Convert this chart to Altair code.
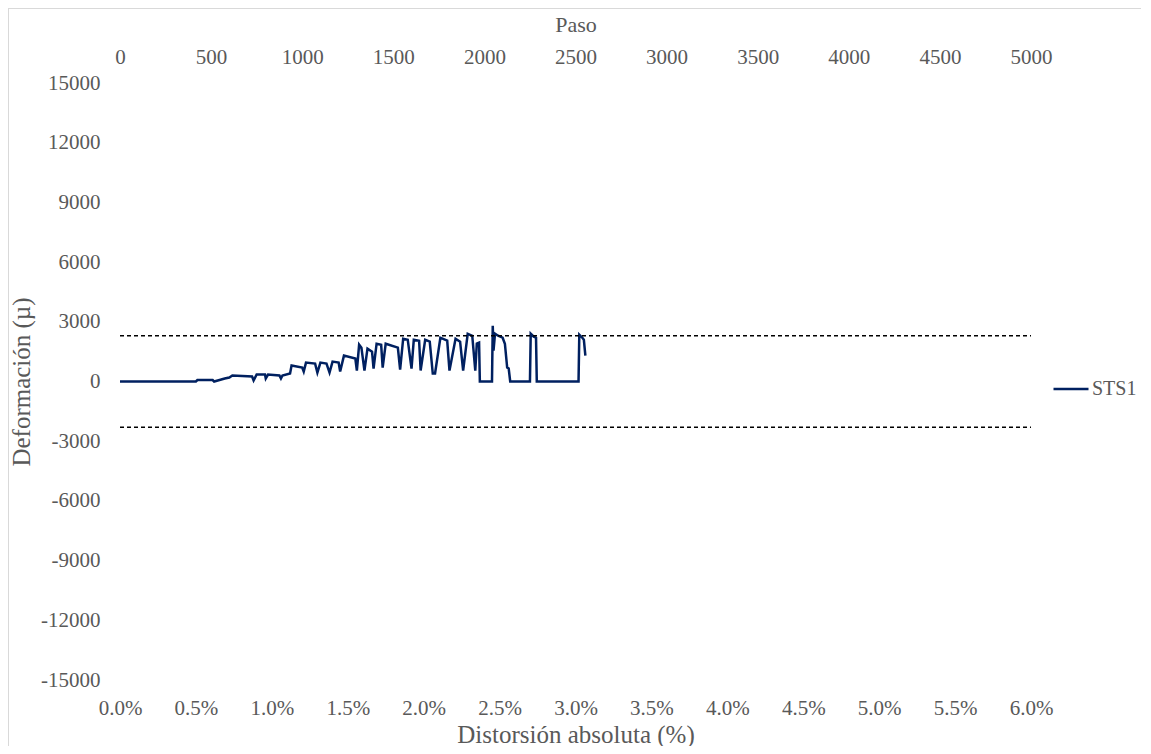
import altair as alt
import pandas as pd

# Series STS1: absolute drift (%) vs strain (micro-strain)
drift_pct = [0.00, 0.50, 0.51, 0.61, 0.62, 0.69, 0.72, 0.74, 0.87, 0.88, 0.90, 0.955, 0.96, 0.975,
             1.05, 1.06, 1.07, 1.12, 1.13, 1.20, 1.21, 1.225, 1.285, 1.30, 1.32, 1.36, 1.38, 1.40,
             1.44, 1.45, 1.475, 1.55, 1.56, 1.575, 1.59, 1.61, 1.63, 1.66, 1.67, 1.69, 1.72, 1.73,
             1.75, 1.83, 1.845, 1.865, 1.895, 1.92, 1.935, 1.97, 1.98, 2.01, 2.04, 2.06, 2.075,
             2.11, 2.155, 2.17, 2.21, 2.24, 2.26, 2.29, 2.32, 2.34, 2.35, 2.365, 2.37, 2.45,
             2.455, 2.46, 2.47, 2.49, 2.52, 2.535, 2.55, 2.56, 2.57, 2.70, 2.705, 2.725, 2.74,
             2.745, 3.02, 3.025, 3.045, 3.055, 3.065]
strain = [0, 0, 75, 75, 0, 150, 200, 300, 250, 50, 350, 350, 150, 350,
          300, 150, 300, 400, 800, 700, 500, 950, 900, 450, 950, 900, 450, 1000,
          950, 500, 1300, 1150, 550, 1850, 1700, 550, 1650, 1500, 650, 1900, 1850, 700,
          1900, 1700, 600, 2150, 2100, 650, 2100, 2050, 550, 2100, 2000, 400, 400,
          2200, 2050, 550, 2150, 2000, 550, 2400, 2300, 550, 1900, 1950, 0, 0,
          2800, 1550, 2400, 2300, 2200, 1900, 700, 650, 0, 0, 2400, 2250, 2200,
          0, 0, 2350, 2200, 2100, 1300]

limit = 2300
x_ticks = [0.0, 0.5, 1.0, 1.5, 2.0, 2.5, 3.0, 3.5, 4.0, 4.5, 5.0, 5.5, 6.0]
y_ticks = [-15000, -12000, -9000, -6000, -3000, 0, 3000, 6000, 9000, 12000, 15000]
paso_ticks = [0, 500, 1000, 1500, 2000, 2500, 3000, 3500, 4000, 4500, 5000]

df = pd.DataFrame({"x": drift_pct, "y": strain, "i": list(range(len(strain))), "serie": "STS1"})
lim_df = pd.DataFrame({"x": [0.0, 0.0], "x2": [6.0, 6.0], "y": [limit, -limit]})

FONT = "Liberation Serif"
GRAY = "#595959"

xscale = alt.Scale(domain=[0, 6], nice=False, zero=False)
yscale = alt.Scale(domain=[-15000, 15000], nice=False)

common = dict(grid=False, domain=False, ticks=False, tickSize=0,
              labelFont=FONT, titleFont=FONT, labelColor=GRAY, titleColor=GRAY,
              titleFontWeight="normal", labelFontSize=21)

line = alt.Chart(df).mark_line(strokeWidth=2.5, color="#002060").encode(
    x=alt.X("x:Q", scale=xscale,
            axis=alt.Axis(values=x_ticks, labelExpr="format(datum.value, '.1f') + '%'",
                          title="Distorsión absoluta (%)", orient="bottom", titleFontSize=25,
                          labelPadding=17, titlePadding=4, labelFlush=False, **common)),
    y=alt.Y("y:Q", scale=yscale,
            axis=alt.Axis(values=y_ticks, labelExpr="datum.value + ''", title="Deformación (µ)",
                          titleFontSize=25, labelPadding=20, titlePadding=6, **common)),
    order="i:Q",
    color=alt.Color("serie:N", scale=alt.Scale(range=["#002060"]),
                    legend=alt.Legend(title=None, orient="none", legendX=932, legendY=287,
                                      symbolType="stroke", symbolSize=1225, symbolStrokeWidth=2.5,
                                      labelFont=FONT, labelFontSize=20, labelColor=GRAY,
                                      labelOffset=2)),
)

limits = alt.Chart(lim_df).mark_rule(color="black", strokeDash=[4, 3], strokeWidth=1.5).encode(
    x=alt.X("x:Q", scale=xscale, axis=None),
    x2="x2:Q",
    y=alt.Y("y:Q", scale=yscale, axis=None),
)

paso_axis = alt.Chart(pd.DataFrame({"x": [0.0]})).mark_point(opacity=0).encode(
    x=alt.X("x:Q", scale=xscale,
            axis=alt.Axis(values=[v * 6 / 5000 for v in paso_ticks],
                          labelExpr="format(round(datum.value * 5000 / 6), 'd')",
                          title="Paso", orient="top", titleFontSize=22, labelPadding=16,
                          titlePadding=10, labelFlush=False, **common)),
)

frame = alt.Chart(pd.DataFrame({"a": [0]})).mark_rule(color="#d9d9d9", strokeWidth=1, clip=False).encode(
    x=alt.value(-111.5), y=alt.value(-75), y2=alt.value(700)
) + alt.Chart(pd.DataFrame({"a": [0]})).mark_rule(color="#d9d9d9", strokeWidth=1, clip=False).encode(
    x=alt.value(-111.5), x2=alt.value(1050), y=alt.value(-74.5)
)

chart = alt.layer(line, limits, paso_axis, frame).resolve_axis(
    x="independent", y="independent"
).properties(
    width=911, height=597,
    autosize=alt.AutoSizeParams(type="none"),
    padding={"left": 112, "top": 75, "right": 110, "bottom": 66},
).configure(
    background="white", view=alt.ViewConfig(stroke="transparent", strokeWidth=0)
)

chart.save("out.html", embed_options={"renderer": "svg", "actions": False})
